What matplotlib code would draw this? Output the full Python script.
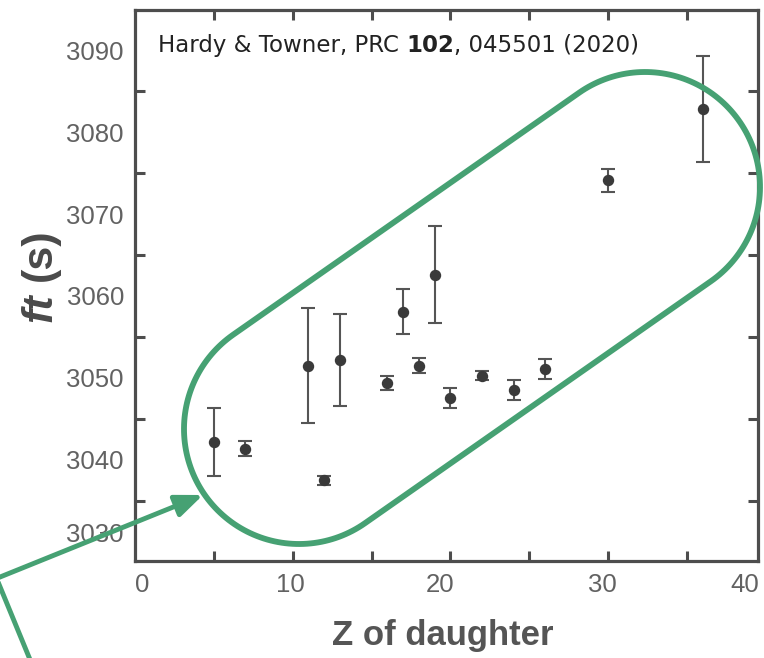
import numpy as np
import matplotlib
matplotlib.use('Agg')
import matplotlib.pyplot as plt
from matplotlib.patches import PathPatch, FancyArrowPatch
from matplotlib.path import Path
from matplotlib.lines import Line2D

# ---------------- data ----------------
z_daughter = [5, 7, 11, 12, 13, 16, 17, 18, 19, 20, 22, 24, 26, 30, 36]
ft_values = [3042.2, 3041.4, 3051.5, 3037.5, 3052.2, 3049.4, 3058.1, 3051.5,
             3062.6, 3047.6, 3050.3, 3048.5, 3051.1, 3074.1, 3082.8]
ft_errors = [4.1, 0.9, 7.0, 0.55, 5.6, 0.85, 2.7, 0.9,
             5.9, 1.2, 0.5, 1.2, 1.25, 1.4, 6.45]

x_tick_labels = ['0', '10', '20', '30', '40']
y_tick_labels = ['3030', '3040', '3050', '3060', '3070', '3080', '3090']

# ---------------- layout ----------------
W, H = 764, 658
x_label_pos = [0.44, 9.83, 19.35, 29.66, 38.67]
y_label_pos = [3031.1, 3040, 3050, 3060, 3070, 3080, 3090]
GREEN = '#46a173'
AX_COL = '#4d4d4d'
LBL_COL = '#626262'

fig = plt.figure(figsize=(W / 100, H / 100), dpi=100)
ax = fig.add_axes([135 / W, 1 - 561 / H, 623 / W, 551 / H])

ax.errorbar(z_daughter, ft_values, yerr=ft_errors, fmt='o', color='#3a3a3a',
            ecolor='#555555', elinewidth=1.5, capsize=4.7, capthick=1.5,
            markersize=7.2, zorder=3)

ax.set_xlim(0, 39.5)
ax.set_ylim(3027.68, 3094.88)

# label-only major ticks
ax.set_xticks(x_label_pos, x_tick_labels)
ax.set_yticks(y_label_pos, y_tick_labels)
ax.tick_params(which='major', length=0, labelsize=18.5, labelcolor=LBL_COL)
ax.tick_params(axis='x', which='major', pad=9)
ax.tick_params(axis='y', which='major', pad=8)
for lbl in ax.get_xticklabels() + ax.get_yticklabels():
    lbl.set_fontfamily('Liberation Sans')

# tick marks as minor ticks every 5 units
ax.set_xticks(np.arange(5, 39, 5), minor=True)
ax.set_yticks(np.arange(3035, 3094, 5), minor=True)
ax.tick_params(which='minor', direction='in', length=7, width=2.2,
               color=AX_COL, top=True, right=True, bottom=True, left=True)

for sp in ax.spines.values():
    sp.set_color(AX_COL)
    sp.set_linewidth(2.3)

# axis labels
fig.text(443 / W, 1 - 636 / H, 'Z of daughter', ha='center', va='center',
         fontsize=25, fontweight='bold', color='#555555',
         family='Liberation Sans')

t_ft = fig.text(40 / W, 1 - 308 / H, 'ft', rotation=90, ha='center', va='center',
                fontsize=31, fontweight='bold', fontstyle='italic',
                color='#4a4a4a', family='Liberation Sans')
ax.annotate('(s)', xy=(0.5, 1), xycoords=t_ft, xytext=(0, 9),
            textcoords='offset points', rotation=90, ha='center', va='bottom',
            fontsize=31, fontweight='bold', color='#4a4a4a',
            family='Liberation Sans', annotation_clip=False)

# citation text
CIT_FONT = 'DejaVu Sans'
CIT_SIZE = 16.5
t1 = fig.text(158 / W, 1 - 52 / H, 'Hardy & Towner, PRC ', ha='left',
              va='baseline', fontsize=CIT_SIZE, color='#222222', family=CIT_FONT)
t2 = ax.annotate('102', xy=(1, 0), xycoords=t1, ha='left', va='bottom',
                 fontsize=CIT_SIZE, fontweight='bold', color='#222222',
                 family=CIT_FONT, annotation_clip=False)
ax.annotate(', 045501 (2020)', xy=(1, 0), xycoords=t2, ha='left', va='bottom',
            fontsize=CIT_SIZE, color='#222222', family=CIT_FONT,
            annotation_clip=False)


# ---------------- green annotation overlay ----------------
def frac(px, py):
    return (px / W, 1 - py / H)


c1 = np.array([299.0, H - 429.0])
c2 = np.array([645.0, H - 187.0])
r = 115.0
theta = np.arctan2(*(c2 - c1)[::-1])
a_far = np.linspace(theta - np.pi / 2, theta + np.pi / 2, 100)
a_near = np.linspace(theta + np.pi / 2, theta + 3 * np.pi / 2, 100)
pts = np.vstack([
    np.column_stack([c2[0] + r * np.cos(a_far), c2[1] + r * np.sin(a_far)]),
    np.column_stack([c1[0] + r * np.cos(a_near), c1[1] + r * np.sin(a_near)]),
])
pts = np.vstack([pts, pts[:1]])
pts_f = np.column_stack([pts[:, 0] / W, pts[:, 1] / H])
capsule = PathPatch(Path(pts_f, closed=True), facecolor='none', edgecolor=GREEN,
                    linewidth=4.2, transform=fig.transFigure, zorder=5)
fig.add_artist(capsule)

origin = (-3.4, 578.4)
arrow = FancyArrowPatch(frac(*origin), frac(203, 495),
                        arrowstyle='-|>,head_length=1.1,head_width=0.45',
                        mutation_scale=15, linewidth=3.5, color=GREEN,
                        shrinkA=0, shrinkB=0, transform=fig.transFigure,
                        zorder=5)
fig.add_artist(arrow)
p0 = frac(*origin)
p1 = frac(31, 662)
fig.add_artist(Line2D([p0[0], p1[0]], [p0[1], p1[1]], color=GREEN,
                      linewidth=3.5, transform=fig.transFigure, zorder=5))

fig.savefig('out.png', dpi=100)
